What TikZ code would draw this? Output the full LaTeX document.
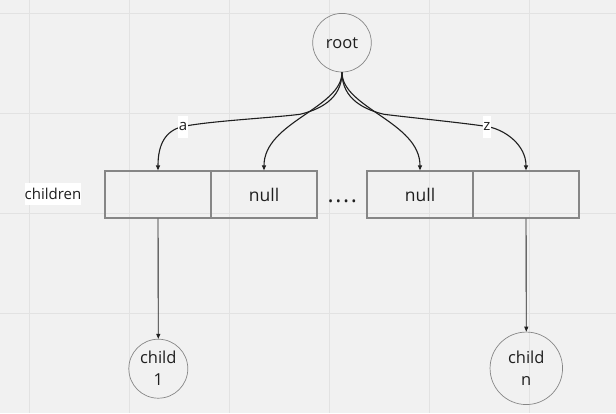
\documentclass[tikz,border=0pt]{standalone}
\usepackage{fontspec}
\setmainfont{Open Sans}
\usetikzlibrary{arrows.meta}
\definecolor{bg}{HTML}{F1F1F1}
\definecolor{gridc}{HTML}{E2E2E2}
\definecolor{strokeg}{HTML}{868686}
\definecolor{ink}{HTML}{1F1F1F}
\begin{document}
\begin{tikzpicture}[x=1pt,y=-1pt,
 circ/.style={circle,draw=strokeg,line width=0.7pt,inner sep=0pt,text=ink,align=center},
 cell/.style={rectangle,draw=strokeg,line width=1.2pt,minimum width=106pt,minimum height=47pt,inner sep=0pt,text=ink,font=\fontsize{17.5}{20}\selectfont},
 link/.style={draw=ink,line width=1.1pt,-{Triangle[length=5pt,width=4pt]}},
 drop/.style={draw=ink,line width=0.9pt,-{Triangle[length=5pt,width=4pt]}},
 lbl/.style={fill=white,inner xsep=0.6pt,inner ysep=0pt,minimum height=22pt,text=ink,font=\fontsize{15}{18}\selectfont}]
\fill[bg] (0,0) rectangle (616,413);
\useasboundingbox (0,0) rectangle (616,413);
\foreach \gx in {29.5,129.5,229.5,329.5,429.5,529.5} \draw[gridc,line width=1pt] (\gx,0) -- (\gx,413);
\foreach \gy in {13,113,213,313} \draw[gridc,line width=1pt] (0,\gy) -- (616,\gy);

\node[circ,minimum size=58.6pt,font=\fontsize{16.5}{19}\selectfont] (root) at (342,42.7) {root};
\node[cell] (b1) at (158,194.5) {};
\node[cell] (b2) at (264,194.5) {null};
\node[cell] (b3) at (420,194.5) {null};
\node[cell] (b4) at (526,194.5) {};
\node[lbl,inner xsep=0pt] (chl) at (53,194) {children};
\node[text=ink,font=\fontsize{23}{24}\selectfont,anchor=base,inner sep=0pt] (dots) at (342.3,202.4) {.\kern1.6pt.\kern1.6pt.\kern1.6pt.};
\node[circ,minimum size=59pt,font=\fontsize{16.5}{22}\selectfont] (c1) at (158.3,368.7) {child\\1};
\node[circ,minimum size=72.5pt,font=\fontsize{16.5}{22}\selectfont] (cn) at (526.3,368.3) {child\\n};

\coordinate (wa1) at (300,114.3);
\coordinate (wa) at (183,126.5);
\coordinate (wz1) at (384,114.3);
\coordinate (wz) at (487,126.5);

\draw[link] (root.south) .. controls (342,100) and (318,110) .. (wa1) .. controls (270,118) and (210,121) .. (wa) .. controls (165,130.5) and (158,145) .. (b1.north);
\draw[link] (root.south) .. controls (342,108) and (264,122) .. (b2.north);
\draw[link] (root.south) .. controls (342,108) and (420,122) .. (b3.north);
\draw[link] (root.south) .. controls (342,100) and (366,110) .. (wz1) .. controls (414,118) and (460,122.5) .. (wz) .. controls (505,129.5) and (526,145) .. (b4.north);

\node[lbl] (la) at (wa) {a};
\node[lbl] (lz) at (wz) {z};

\draw[drop] (b1.south) -- (c1.north);
\draw[drop] (b4.south) -- (cn.north);
\end{tikzpicture}
\end{document}
